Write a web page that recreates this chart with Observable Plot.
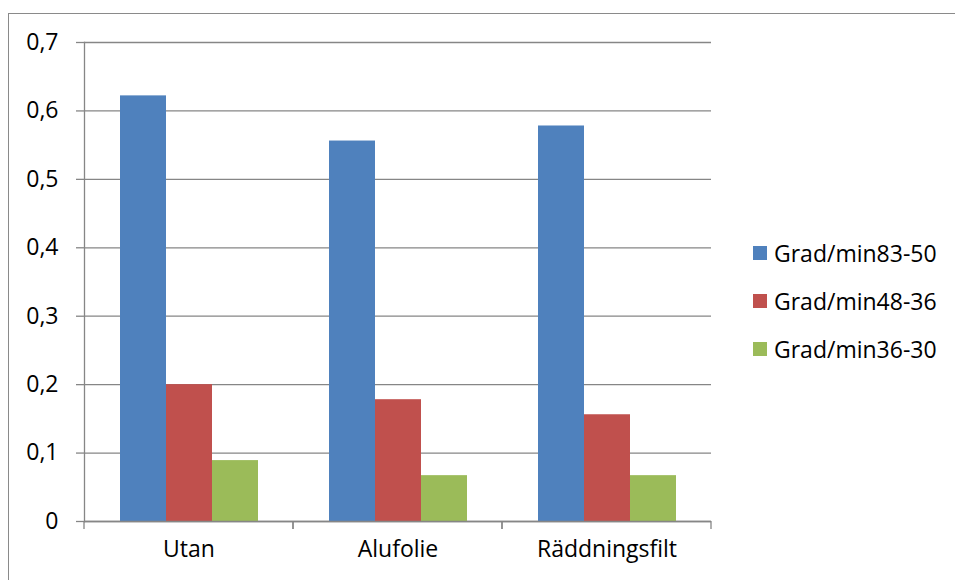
<!DOCTYPE html>
<html>
<head>
<meta charset="utf-8">
<script src="https://cdn.jsdelivr.net/npm/d3@7"></script>
<script src="https://cdn.jsdelivr.net/npm/@observablehq/plot@0.6"></script>
<style>
  html, body { margin: 0; padding: 0; background: #fff; }
  body { width: 955px; height: 580px; position: relative; overflow: hidden; font-family: "Open Sans", sans-serif; }
  #border { position: absolute; left: 8px; top: 13px; width: 1000px; height: 700px; border: 1.5px solid #8a8a8a; box-sizing: border-box; }
  #chart { position: absolute; left: 0; top: 0; }
  #legend { position: absolute; left: 753px; top: 228.5px; }
  .row { display: flex; align-items: center; height: 48.3px; font-size: 23px; color: #000; white-space: nowrap; }
  .sw { width: 14px; height: 14px; margin-right: 7px; flex: none; }
</style>
</head>
<body>
<div id="border"></div>
<div id="chart"></div>
<div id="legend"></div>
<script>
const categories = ["Utan", "Alufolie", "Räddningsfilt"];
const seriesNames = ["Grad/min83-50", "Grad/min48-36", "Grad/min36-30"];
const values83_50 = [0.622, 0.556, 0.578];
const values48_36 = [0.200, 0.178, 0.156];
const values36_30 = [0.089, 0.067, 0.067];
const seriesColors = ["#4F81BD", "#C0504D", "#9BBB59"];
const yTicks = [0, 0.1, 0.2, 0.3, 0.4, 0.5, 0.6, 0.7];

const seriesValues = [values83_50, values48_36, values36_30];
const data = [];
categories.forEach((c, i) => {
  seriesNames.forEach((s, j) => data.push({category: c, series: s, value: seriesValues[j][i]}));
});

const gray = "#868686";

const boundaryTicks = (index, scales, values, dimensions) => {
  const g = d3.create("svg:g");
  let x0, x1;
  if (scales.x && scales.x.range) { [x0, x1] = scales.x.range(); }
  else { x0 = dimensions.marginLeft; x1 = dimensions.width - dimensions.marginRight; }
  const y0 = scales.y(0);
  for (const xx of [x0, x1]) {
    g.append("line").attr("x1", xx).attr("x2", xx).attr("y1", y0).attr("y2", y0 + 8)
      .attr("stroke", gray).attr("stroke-width", 1.3);
  }
  return g.node();
};

const chart = Plot.plot({
  width: 955,
  height: 580,
  marginLeft: 84,
  marginRight: 244,
  marginTop: 42,
  marginBottom: 59,
  style: {fontFamily: "Open Sans", fontSize: "23px", background: "transparent", color: "#000"},
  fx: {domain: categories, padding: 0, axis: null, label: null},
  x: {domain: seriesNames, paddingInner: 0, paddingOuter: 0.75, axis: null},
  y: {domain: [0, 0.7], axis: null},
  color: {domain: seriesNames, range: seriesColors},
  marks: [
    Plot.gridY(yTicks, {stroke: gray, strokeOpacity: 1, strokeWidth: 1.3}),
    Plot.barY(data, {fx: "category", x: "series", y: "value", fill: "series"}),
    Plot.ruleY([0], {stroke: gray, strokeWidth: 1.3}),
    Plot.frame({anchor: "left", facetAnchor: "left", stroke: gray, strokeWidth: 1.3}),
    Plot.axisY(yTicks, {
      anchor: "left", facetAnchor: "left",
      tickSize: 8, tickPadding: 18, stroke: gray, strokeWidth: 1.3, fill: "#000",
      fontSize: 23, label: null,
      tickFormat: d => String(d).replace(".", ",")
    }),
    boundaryTicks,
    Plot.text(categories, {fx: d => d, text: d => d, frameAnchor: "bottom", dy: 35.5, fontSize: 23, fill: "#000"})
  ]
});
document.getElementById("chart").appendChild(chart);

const legend = document.getElementById("legend");
seriesNames.forEach((s, j) => {
  const row = document.createElement("div");
  row.className = "row";
  const sw = document.createElement("span");
  sw.className = "sw";
  sw.style.background = seriesColors[j];
  const t = document.createElement("span");
  t.textContent = s;
  row.appendChild(sw);
  row.appendChild(t);
  legend.appendChild(row);
});
</script>
</body>
</html>
